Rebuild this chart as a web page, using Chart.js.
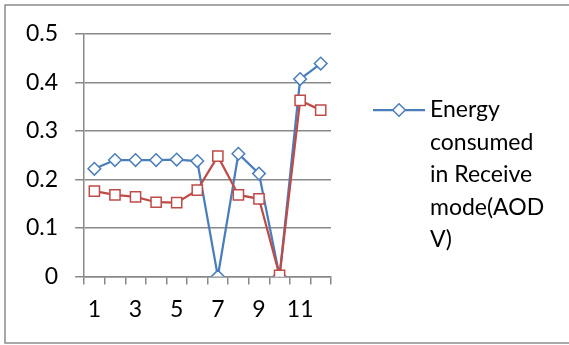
<!DOCTYPE html>
<html>
<head>
<meta charset="utf-8">
<script src="https://cdn.jsdelivr.net/npm/chart.js@4/dist/chart.umd.min.js"></script>
<style>
  html, body { margin: 0; padding: 0; background: #ffffff; }
  #wrap { width: 569px; height: 345px; position: relative; }
</style>
</head>
<body>
<div id="wrap"><canvas id="chart" width="569" height="345"></canvas></div>
<script>
// Node index along the x axis
const categories = ['1', '2', '3', '4', '5', '6', '7', '8', '9', '10', '11', '12'];

// Energy consumed in receive mode (AODV)
const receiveAodv = [0.222, 0.240, 0.240, 0.240, 0.241, 0.238, 0.000, 0.253, 0.212, 0.000, 0.407, 0.439];

// Second series (red squares)
const receiveOther = [0.176, 0.168, 0.164, 0.153, 0.152, 0.178, 0.248, 0.168, 0.160, 0.002, 0.363, 0.343];

// Value axis ticks
const yTicks = [0, 0.1, 0.2, 0.3, 0.4, 0.5];

const legendLabel = 'Energy consumed in Receive mode(AODV)';

const FONT = 'Lato, "Open Sans", sans-serif';
const GRID = '#898989';
const BLUE = '#4a7ebb';
const RED = '#be4b48';

// Outer frame of the chart
const framePlugin = {
  id: 'frame',
  beforeDraw(chart) {
    const ctx = chart.ctx;
    ctx.save();
    ctx.fillStyle = '#ffffff';
    ctx.fillRect(0, 0, chart.width, chart.height);
    ctx.strokeStyle = '#8c8c8c';
    ctx.lineWidth = 1.5;
    ctx.strokeRect(5, 5, chart.width + 10, 338);
    ctx.restore();
  }
};

// Wrap a label into lines no wider than maxWidth, breaking long words
function wrapText(ctx, text, maxWidth) {
  const words = text.split(' ');
  const lines = [];
  let line = '';
  for (const word of words) {
    const trial = line ? line + ' ' + word : word;
    if (ctx.measureText(trial).width <= maxWidth) { line = trial; continue; }
    if (line) { lines.push(line); line = ''; }
    let rest = word;
    while (ctx.measureText(rest).width > maxWidth) {
      let i = rest.length;
      while (i > 1 && ctx.measureText(rest.slice(0, i)).width > maxWidth) i--;
      lines.push(rest.slice(0, i));
      rest = rest.slice(i);
    }
    line = rest;
  }
  if (line) lines.push(line);
  return lines;
}

// Legend to the right of the plot, with wrapped text
const sideLegendPlugin = {
  id: 'sideLegend',
  afterDraw(chart) {
    const ctx = chart.ctx;
    const ds = chart.data.datasets[0];
    const lx0 = 373, lx1 = 425, ly = 110;
    ctx.save();
    ctx.strokeStyle = ds.borderColor;
    ctx.lineWidth = ds.borderWidth;
    ctx.beginPath();
    ctx.moveTo(lx0, ly);
    ctx.lineTo(lx1, ly);
    ctx.stroke();
    ctx.fillStyle = '#ffffff';
    ctx.strokeStyle = ds.pointBorderColor;
    ctx.lineWidth = ds.pointBorderWidth;
    Chart.helpers.drawPoint(ctx, {
      pointStyle: ds.pointStyle,
      radius: ds.pointRadius,
      borderWidth: ds.pointBorderWidth,
      rotation: 0
    }, (lx0 + lx1) / 2, ly);

    ctx.font = '23px ' + FONT;
    ctx.fillStyle = '#000000';
    ctx.textBaseline = 'middle';
    ctx.textAlign = 'left';
    const lines = wrapText(ctx, ds.label, 122);
    lines.forEach((t, i) => ctx.fillText(t, 430, ly + i * 32.5));
    ctx.restore();
  }
};

new Chart(document.getElementById('chart'), {
  type: 'line',
  data: {
    labels: categories,
    datasets: [
      {
        label: legendLabel,
        data: receiveAodv,
        borderColor: BLUE,
        backgroundColor: '#ffffff',
        borderWidth: 2.25,
        pointStyle: 'rectRot',
        pointRadius: 6.3,
        pointBorderWidth: 1.5,
        pointBorderColor: BLUE,
        pointBackgroundColor: '#ffffff',
        tension: 0,
        order: 1
      },
      {
        label: '',
        data: receiveOther,
        borderColor: RED,
        backgroundColor: '#ffffff',
        borderWidth: 2.25,
        pointStyle: 'rect',
        pointRadius: 7.2,
        pointBorderWidth: 1.5,
        pointBorderColor: RED,
        pointBackgroundColor: '#ffffff',
        tension: 0,
        order: 0
      }
    ]
  },
  options: {
    responsive: false,
    animation: false,
    devicePixelRatio: 1,
    layout: { padding: { left: 9, top: 34, right: 238, bottom: 11 } },
    plugins: {
      legend: { display: false },
      tooltip: { enabled: false }
    },
    scales: {
      x: {
        type: 'category',
        offset: true,
        grid: {
          display: true,
          offset: true,
          drawOnChartArea: false,
          drawTicks: true,
          tickLength: 8,
          color: GRID,
          lineWidth: 1.5
        },
        border: { display: true, color: GRID, width: 1.5 },
        ticks: {
          autoSkip: false,
          maxRotation: 0,
          padding: 11,
          color: '#000000',
          font: { family: FONT, size: 23 },
          callback: (v, i) => (i % 2 === 0 ? categories[i] : '')
        }
      },
      y: {
        min: yTicks[0],
        max: yTicks[yTicks.length - 1],
        afterBuildTicks: (scale) => { scale.ticks = yTicks.map(v => ({ value: v })); },
        grid: {
          color: GRID,
          lineWidth: 1.5,
          drawTicks: true,
          tickLength: 9
        },
        border: { display: true, color: GRID, width: 1.5 },
        ticks: {
          padding: 17,
          color: '#000000',
          font: { family: FONT, size: 23 },
          callback: (v) => String(v)
        }
      }
    }
  },
  plugins: [framePlugin, sideLegendPlugin]
});
</script>
</body>
</html>
